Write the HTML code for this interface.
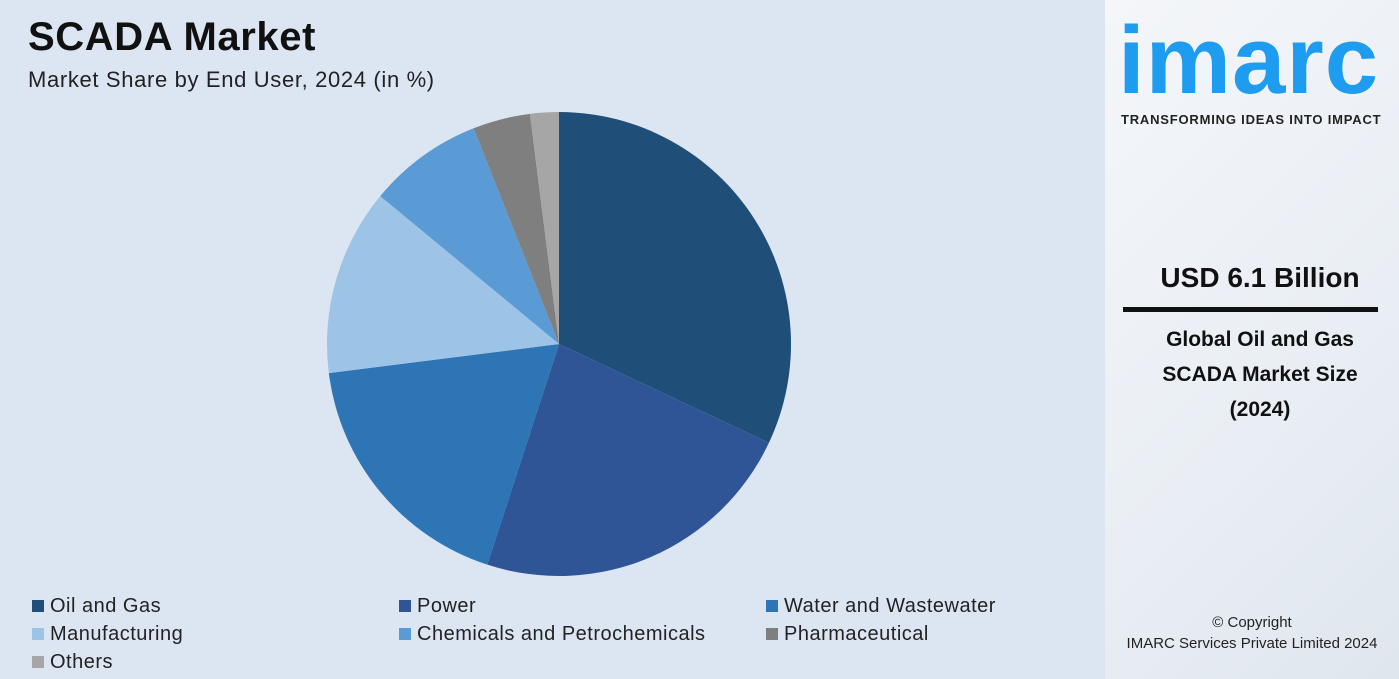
<!DOCTYPE html>
<html><head><meta charset="utf-8"><style>
body{margin:0;width:1399px;height:679px;overflow:hidden;font-family:"Liberation Sans",sans-serif;background:#fff;position:relative}
#left{position:absolute;left:0;top:0;width:1105px;height:679px;background:#dce6f2}
#right{position:absolute;left:1105px;top:0;width:294px;height:679px;background:linear-gradient(135deg,#f4f6f9,#e9eef4 60%,#dfe6ee)}
.t{position:absolute;white-space:nowrap}
.leg{position:absolute;font-size:20px;letter-spacing:0.5px;color:#222;white-space:nowrap}
.leg i{display:inline-block;width:12px;height:12px;margin-right:6px;vertical-align:0}
</style></head><body>
<div id="left">
<div class="t" style="left:28px;top:15px;font-size:40px;letter-spacing:0.6px;font-weight:bold;color:#111">SCADA Market</div>
<div class="t" style="left:28px;top:67px;font-size:22px;letter-spacing:0.65px;color:#222">Market Share by End User, 2024 (in %)</div>
<svg id="pie" width="1105" height="679" style="position:absolute;left:0;top:0"></svg>
<div id="legend"></div>
</div>
<div id="right">
<div class="t" style="left:13px;top:6px;font-size:96px;font-weight:bold;color:#1e9cf0;letter-spacing:1px">imarc</div>
<div class="t" style="left:16px;top:112px;font-size:13px;letter-spacing:0.8px;font-weight:bold;color:#222">TRANSFORMING IDEAS INTO IMPACT</div>
<div class="t" style="left:0;width:310px;text-align:center;top:262px;font-size:28px;font-weight:bold;color:#111">USD 6.1 Billion</div>
<div style="position:absolute;left:18px;top:307px;width:255px;height:5px;background:#111"></div>
<div class="t" style="left:0;width:310px;text-align:center;top:322px;font-size:21px;font-weight:bold;color:#111;line-height:35px;white-space:normal">Global Oil and Gas<br>SCADA Market Size<br>(2024)</div>
<div class="t" style="left:0;width:294px;text-align:center;top:612px;font-size:15px;color:#222;line-height:21px">© Copyright<br>IMARC Services Private Limited 2024</div>
</div>
<script>
const categories=["Oil and Gas","Power","Water and Wastewater","Manufacturing","Chemicals and Petrochemicals","Pharmaceutical","Others"];
const values=[32,23,18,13,8,4,2];
const colors=["#1f4e79","#2f5597","#2e75b6","#9dc3e6","#5b9bd5","#7f7f7f","#a6a6a6"];
const NS="http://www.w3.org/2000/svg";
const svg=document.getElementById("pie");
const cx=559,cy=344,r=232;
const total=values.reduce((a,b)=>a+b,0);
let acc=0;
function pt(f){const a=f*2*Math.PI;return [cx+r*Math.sin(a),cy-r*Math.cos(a)];}
values.forEach((v,i)=>{
 const [x1,y1]=pt(acc/total);acc+=v;const [x2,y2]=pt(acc/total);
 const p=document.createElementNS(NS,"path");
 p.setAttribute("d",`M${cx},${cy}L${x1},${y1}A${r},${r} 0 ${v/total>0.5?1:0} 1 ${x2},${y2}Z`);
 p.setAttribute("fill",colors[i]);
 
 
 svg.appendChild(p);
});
const lg=document.getElementById("legend");
categories.forEach((c,i)=>{
 const d=document.createElement("div");d.className="leg";
 d.style.left=(32+(i%3)*367)+"px";d.style.top=(595+Math.floor(i/3)*28)+"px";
 d.innerHTML=`<i style="background:${colors[i]}"></i>${c}`;
 
 
 lg.appendChild(d);
});
</script>
</body></html>
